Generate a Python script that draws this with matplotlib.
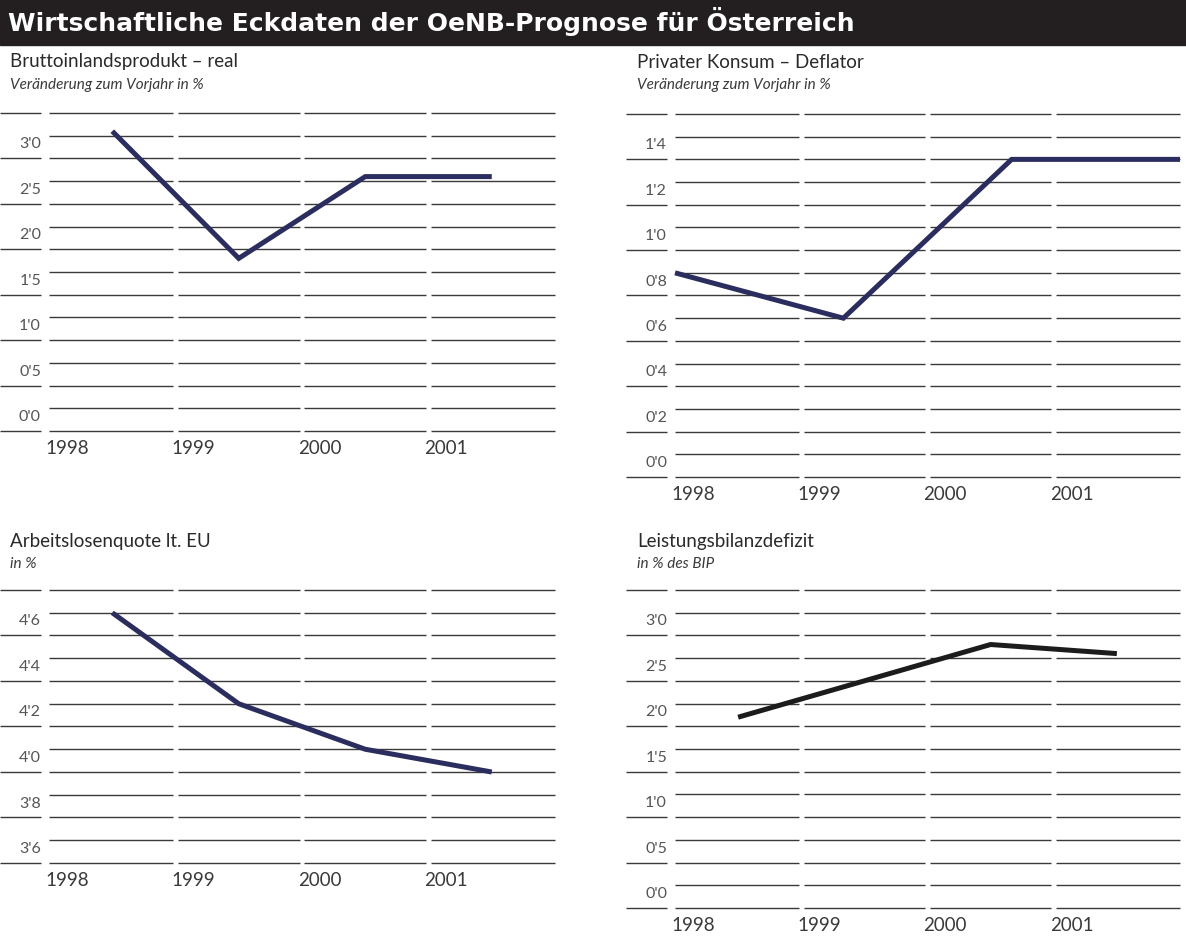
import numpy as np
import matplotlib
matplotlib.use("Agg")
import matplotlib.pyplot as plt
from matplotlib.patches import Rectangle
from matplotlib.transforms import blended_transform_factory

W, H = 1186, 947

# Jahre und Reihen (Veränderung zum Vorjahr bzw. Quoten in %)
jahre = ["1998", "1999", "2000", "2001"]
bip_real = [3.3, 1.9, 2.8, 2.8]
konsum_deflator = [0.9, 0.7, 1.4, 1.4]
arbeitslosenquote = [4.7, 4.3, 4.1, 4.0]
leistungsbilanz = [2.1, 2.5, 2.9, 2.8]

plt.rcParams["font.family"] = ["Lato", "DejaVu Sans"]

NAVY = "#2b2d5e"
GRID = "#3a3a3a"
TEXT = "#3a3a3a"

fig = plt.figure(figsize=(W / 100, H / 100), dpi=100)


def achse(x0, y0, x1, y1):
    return fig.add_axes([x0 / W, 1 - y1 / H, (x1 - x0) / W, (y1 - y0) / H])


def zeichne(ax, werte, ymin, ymax, schritt, xs, farbe):
    n = len(jahre)
    ax.set_xlim(-0.5, n - 0.5)
    ax.set_ylim(ymin, ymax)
    ax.axis("off")
    trans = blended_transform_factory(ax.transAxes, ax.transData)
    gap = 0.018
    ylines = np.arange(ymin, ymax + 1e-9, schritt / 2)
    for k, y in enumerate(ylines):
        for i in range(n):
            a = i - 0.5 + (gap if i > 0 else 0)
            b = i + 0.5 - (gap if i < n - 1 else 0)
            ax.plot([a, b], [y, y], color=GRID, lw=1.0, clip_on=False,
                    solid_capstyle="butt")
        if k % 2 == 0:
            # linkes Stück unter der Beschriftung
            ax.plot([-0.097, -0.015], [y, y], color=GRID, lw=1.0,
                    transform=trans, clip_on=False, solid_capstyle="butt")
            if y < ymax - 1e-9:
                txt = f"{y:.1f}".replace(".", "'")
                ax.annotate(txt, xy=(0, y), xycoords=trans,
                            xytext=(-8, 14), textcoords="offset pixels",
                            ha="right", va="center", fontsize=11.5,
                            color="#555555")
    for i, j in enumerate(jahre):
        ax.annotate(j, xy=(i - 0.5, ymin), xycoords="data",
                    xytext=(-4, -17), textcoords="offset pixels",
                    ha="left", va="center", fontsize=13.5, color=TEXT)
    ax.plot(xs, werte, color=farbe, lw=3.6, solid_capstyle="butt",
            solid_joinstyle="miter", clip_on=False, zorder=5)


mitte = np.arange(len(jahre))

ax1 = achse(49, 113, 555, 431)
zeichne(ax1, bip_real, 0.0, 3.5, 0.5, mitte, NAVY)

ax2 = achse(675, 114, 1180, 477)
zeichne(ax2, konsum_deflator, 0.0, 1.6, 0.2,
        np.linspace(-0.5, len(jahre) - 0.5, len(jahre)), NAVY)

ax3 = achse(49, 590, 555, 863)
zeichne(ax3, arbeitslosenquote, 3.6, 4.8, 0.2, mitte, NAVY)

ax4 = achse(675, 590, 1180, 908)
zeichne(ax4, leistungsbilanz, 0.0, 3.5, 0.5, mitte, "#1c1c1c")

# Kopfbalken
fig.add_artist(Rectangle((0, 1 - 45 / H), 1, 45 / H, transform=fig.transFigure,
                         color="#231f20", zorder=0))
fig.text(8 / W, 1 - 22 / H, "Wirtschaftliche Eckdaten der OeNB-Prognose für Österreich",
         color="white", fontsize=18, fontweight="bold", va="center", ha="left",
         family=["DejaVu Sans"])

titel = [
    (10, 62, "Bruttoinlandsprodukt – real", "Veränderung zum Vorjahr in %"),
    (637, 62, "Privater Konsum – Deflator", "Veränderung zum Vorjahr in %"),
    (10, 541, "Arbeitslosenquote lt. EU", "in %"),
    (637, 541, "Leistungsbilanzdefizit", "in % des BIP"),
]
for x, y, t, s in titel:
    fig.text(x / W, 1 - y / H, t, fontsize=13.5, va="center", ha="left",
             color="#2a2a2a")
    fig.text(x / W, 1 - (y + 23) / H, s, fontsize=11, va="center", ha="left",
             color=TEXT, style="italic")

fig.savefig("out.png", dpi=100)
